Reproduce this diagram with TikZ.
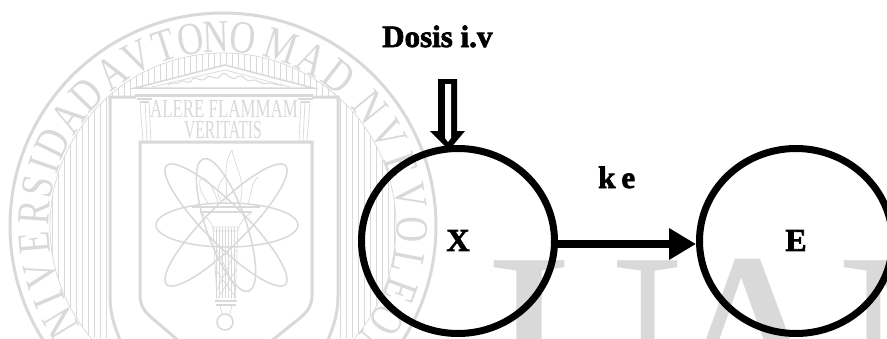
\documentclass[tikz,border=0pt]{standalone}
\usepackage{fontspec}
\setmainfont[BoldFeatures={FakeBold=2.2}]{Liberation Serif}
\usetikzlibrary{shapes.geometric,arrows.meta}
\definecolor{seal}{HTML}{D9D9D9}
\newcommand{\fpx}[1]{\fontsize{#1}{#1}\selectfont}
\tikzset{
  sealthin/.style={draw=seal,line width=0.7pt},
  sealmid/.style={draw=seal,line width=1.5pt},
  sealthick/.style={draw=seal,line width=3pt},
  sealletter/.style={text=seal,inner sep=0pt,font=\fpx{46}},
  bigletter/.style={text=seal,inner sep=0pt,anchor=base,font=\fpx{270}},
  compartment/.style={ellipse,draw=black,line width=7pt,minimum width=193pt,minimum height=185pt,inner sep=0pt,font=\bfseries\fpx{32}},
  boldtext/.style={inner sep=0pt,text=black,font=\bfseries\fpx{31}},
  flow/.style={draw=black,line width=7.5pt,-{Triangle[length=27pt,width=30pt]}},
}
\begin{document}
\begin{tikzpicture}[x=1pt,y=-1pt]
\useasboundingbox (0,0) rectangle (887,338);
\clip (0,0) rectangle (887,338);
\fill[white] (0,0) rectangle (887,338);
% large background letters
\node[bigletter] (bigU) at (586,437) {U};
\node[bigletter] (bigA) at (750,437) {A};
\node[bigletter] (bigN) at (934,437) {N};
% seal rings
\draw[sealthick] (223,226) circle (213pt);
\begin{scope}
  \clip (223,226) circle (173pt);
  \foreach \hx in {52,58,...,400} \draw[sealthin] (\hx,40) -- (\hx,338);
\end{scope}
\draw[sealthin] (223,226) circle (173pt);
% ring letters
\foreach \ang/\ltr in {211/N,203/I,195/V,185/E,176/R,168/S,161/I,154/D,145/A,136/D,126/A,117/V,108/T,100/O,92/N,84/O,72/M,62/A,52/D,39/N,29/V,19/E,9/V,-1/O,-11/L,-20/E,-30/O,-40/N}{
  \pgfmathsetmacro{\lx}{223+189*cos(\ang)}
  \pgfmathsetmacro{\ly}{226-189*sin(\ang)}
  \pgfmathsetmacro{\lr}{\ang-90}
  \node[sealletter,rotate=\lr] at (\lx,\ly) {\scalebox{.78}[1]{\ltr}};
}
% building
\fill[white] (135,88) -- (225,65) -- (313,88) -- (313,97) -- (338,97) -- (338,338) -- (110,338) -- (110,97) -- (135,97) -- cycle;
\draw[sealthick] (120,340) .. controls (112,320) and (110,310) .. (110,295) -- (110,97) -- (338,97) -- (338,295) .. controls (338,310) and (336,320) .. (328,340);
\fill[white] (135,88) rectangle (313,96);
\fill[white] (136,97) rectangle (312,141);
\draw[sealmid] (135,88) -- (225,65) -- (313,88) -- cycle;
\draw[sealthin] (152,87) -- (225,70) -- (290,87);
\draw[sealmid] (135,95) -- (313,95);
\draw[sealthin,line width=1pt] (168,85) .. controls (172,80) and (176,86) .. (180,82) .. controls (184,78) and (188,86) .. (192,80) .. controls (196,74) and (200,84) .. (206,78) .. controls (210,72) and (216,84) .. (222,74) .. controls (226,70) and (232,84) .. (238,76) .. controls (244,74) and (246,84) .. (252,80) .. controls (256,78) and (262,86) .. (268,83) .. controls (272,82) and (276,86) .. (282,85);
% columns
\draw[sealmid] (137,99) -- (152,99) (140,102) -- (149,102) (298,99) -- (313,99) (301,102) -- (310,102);
\draw[sealthin] (140,102) -- (143,141) (149,102) -- (151,141) (145,102) -- (147,141) (310,102) -- (307,141) (301,102) -- (299,141) (305,102) -- (303,141);
\node[inner sep=0pt,text=seal] (motto) at (224,109) {\fpx{26}\scalebox{.65}[1]{ALERE FLAMMAM}};
\node[inner sep=0pt,text=seal] (verit) at (223,130) {\fpx{26}\scalebox{.6}[1]{VERITATIS}};
% shield
\draw[sealthick] (180,342) -- (152,318) .. controls (145,312) and (140,306) .. (140,295) -- (140,142) -- (312,142) -- (312,295) .. controls (312,306) and (307,312) .. (300,318) -- (270,342);
% atom
\draw[sealmid] (227,225) circle [x radius=71pt,y radius=22pt];
\draw[sealmid,rotate around={45:(226,225)}] (226,225) circle [x radius=84pt,y radius=20pt];
\draw[sealmid,rotate around={-45:(226,225)}] (226,225) circle [x radius=84pt,y radius=20pt];
\draw[sealmid,rotate around={-71:(226,225)}] (226,225) circle [x radius=70pt,y radius=20pt];
% torch
\draw[sealthin] (232,150) .. controls (222,165) and (228,180) .. (226,202) (232,150) .. controls (236,170) and (246,180) .. (240,202) (200,180) .. controls (205,172) and (215,190) .. (218,203) (200,180) .. controls (198,190) and (205,198) .. (208,203) (258,177) .. controls (250,185) and (252,195) .. (248,203) (226,175) .. controls (216,185) and (216,195) .. (222,203);
\draw[sealmid] (192,207) -- (260,207) (200,212) -- (252,212);
\draw[sealthin] (200,212) .. controls (205,216) and (212,222) .. (214,230) (252,212) .. controls (246,216) and (240,222) .. (238,230);
\draw[sealthin] (213,227) -- (238,227) (213,231) -- (238,231) (213,227) -- (217,300) (238,227) -- (235,300);
\foreach \tx in {216,219,...,236} \draw[sealthin] (\tx,228) -- (\tx,298);
\draw[sealthin] (217,250) -- (236,290) (236,250) -- (217,290) (216,270) -- (236,298) (236,270) -- (218,298);
\draw[sealmid] (215,301) -- (237,301) (216,305) -- (236,305);
\draw[sealthin] (220,305) -- (222,314) (232,305) -- (230,314);
\draw[sealmid] (225,322) circle (8pt);
% diagram proper
\node[compartment] (Xc) at (458,241) {\raisebox{1pt}{X}};
\node[compartment] (Ec) at (796,241) {\raisebox{1pt}{E}};
\draw[flow] ([yshift=-3pt]Xc.east) -- ([yshift=-3pt]Ec.west);
\node[boldtext,anchor=base west] (dose) at (382,47) {Dosis i.v};
\node[boldtext,anchor=base west] (ke) at (598,188) {k\hspace{6pt}e};
\coordinate (doseTip) at (449,150);
\begin{scope}[shift={(doseTip)}]
  \fill[black] (-11,-71) -- (8,-71) -- (8,-19) -- (16,-19) -- (0,0) -- (-19,-19) -- (-11,-19) -- cycle;
  \fill[white] (-4,-66) -- (2,-66) -- (2,-12) -- (-1,-8) -- (-4,-12) -- cycle;
\end{scope}
\end{tikzpicture}
\end{document}
